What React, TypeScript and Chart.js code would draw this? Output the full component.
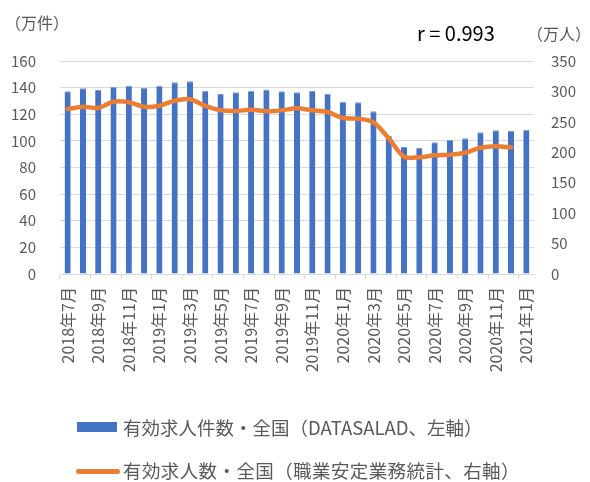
import React, { useEffect, useRef } from 'react';
import { Chart, registerables } from 'chart.js';

Chart.register(...registerables);

const months = [
  '2018年7月', '2018年8月', '2018年9月', '2018年10月', '2018年11月', '2018年12月',
  '2019年1月', '2019年2月', '2019年3月', '2019年4月', '2019年5月', '2019年6月',
  '2019年7月', '2019年8月', '2019年9月', '2019年10月', '2019年11月', '2019年12月',
  '2020年1月', '2020年2月', '2020年3月', '2020年4月', '2020年5月', '2020年6月',
  '2020年7月', '2020年8月', '2020年9月', '2020年10月', '2020年11月', '2020年12月',
  '2021年1月',
];

// 有効求人件数・全国（DATASALAD、左軸） 万件
const jobPostings = [
  137.3, 139.5, 138.2, 140.5, 141.5, 140.0, 141.5, 144.0, 144.7, 137.7,
  135.2, 136.5, 137.7, 138.5, 137.3, 136.5, 137.5, 135.4, 129.4, 129.0,
  122.2, 103.7, 95.4, 94.9, 98.9, 100.7, 101.9, 106.4, 107.9, 107.4,
  108.4,
];

// 有効求人数・全国（職業安定業務統計、右軸） 万人
const openings = [
  271.1, 274.9, 272.8, 283.1, 282.1, 274.9, 276.6, 284.8, 287.1, 276.1,
  269.0, 267.8, 270.0, 267.3, 269.0, 272.4, 269.0, 266.2, 256.3, 255.2,
  249.3, 223.0, 192.7, 191.8, 195.0, 196.0, 199.3, 207.5, 209.8, 208.2,
  null,
];

const leftMax = 160;
const leftStep = 20;
const rightMax = 350;
const rightStep = 50;

const seriesNames = [
  '有効求人件数・全国（DATASALAD、左軸）',
  '有効求人数・全国（職業安定業務統計、右軸）',
];
const leftUnit = '（万件）';
const rightUnit = '（万人）';
const corrText = 'r = 0.993';

const BLUE = '#4472C4';
const BLUE_EDGE = '#7A9BD6';
const ORANGE = '#ED7D31';
const GRID = '#D9D9D9';
const TEXT = '#595959';
const FONT = '"Noto Sans CJK JP", "Noto Sans", sans-serif';

export default function App() {
  const ref = useRef<HTMLCanvasElement | null>(null);

  useEffect(() => {
    if (!ref.current) return;
    const chart = new Chart(ref.current, {
      type: 'bar',
      data: {
        labels: months,
        datasets: [
          {
            type: 'line',
            label: seriesNames[1],
            data: openings,
            yAxisID: 'y1',
            borderColor: ORANGE,
            backgroundColor: ORANGE,
            borderWidth: 4.5,
            pointRadius: 0,
            tension: 0.3,
            borderCapStyle: 'round',
            borderJoinStyle: 'round',
            order: 0,
          } as any,
          {
            type: 'bar',
            label: seriesNames[0],
            data: jobPostings,
            yAxisID: 'y',
            backgroundColor: BLUE,
            borderColor: BLUE_EDGE,
            borderWidth: { top: 1, left: 0, right: 0, bottom: 0 },
            categoryPercentage: 1,
            barPercentage: 0.4,
            order: 1,
          },
        ],
      },
      options: {
        responsive: false,
        animation: false,
        devicePixelRatio: 1,
        layout: { padding: { top: 61, left: 0, right: 0, bottom: 0 } },
        plugins: {
          legend: { display: false },
          tooltip: { enabled: false },
        },
        scales: {
          x: {
            offset: true,
            border: { display: true, color: GRID, width: 1 },
            grid: {
              display: true,
              offset: true,
              drawOnChartArea: false,
              drawTicks: true,
              tickLength: 5,
              color: (ctx: any) => (ctx.index !== undefined && ctx.index % 2 === 0 ? GRID : 'rgba(0,0,0,0)'),
            },
            ticks: {
              autoSkip: false,
              maxRotation: 90,
              minRotation: 90,
              padding: 8,
              color: TEXT,
              font: { family: FONT, size: 16 },
              callback: (_v: any, i: number) => (i % 2 === 0 ? months[i] : ''),
            },
            afterFit: (s: any) => {
              s.height = 482 - 274;
            },
          },
          y: {
            position: 'left',
            min: 0,
            max: leftMax,
            border: { display: false },
            grid: { color: GRID, lineWidth: 1, drawTicks: false },
            ticks: {
              stepSize: leftStep,
              padding: 24,
              color: TEXT,
              font: { family: FONT, size: 15 },
            },
            afterFit: (s: any) => {
              s.width = 60;
            },
          },
          y1: {
            position: 'right',
            min: 0,
            max: rightMax,
            border: { display: false },
            grid: { display: false, drawTicks: false },
            ticks: {
              stepSize: rightStep,
              padding: 17,
              color: TEXT,
              font: { family: FONT, size: 15 },
            },
            afterFit: (s: any) => {
              s.width = 56;
            },
          },
        },
      },
    });
    return () => chart.destroy();
  }, []);

  const textBase: React.CSSProperties = {
    position: 'absolute',
    fontFamily: FONT,
    color: TEXT,
    whiteSpace: 'nowrap',
    lineHeight: 1,
  };

  return (
    <div style={{ position: 'fixed', left: 0, top: 0, width: 590, height: 482, background: '#fff' }}>
      <canvas ref={ref} width={590} height={482} style={{ position: 'absolute', left: 0, top: 0, width: 590, height: 482 }} />
      <div style={{ ...textBase, left: 5, top: 14, fontSize: 16 }}>{leftUnit}</div>
      <div style={{ ...textBase, left: 527, top: 25, fontSize: 16 }}>{rightUnit}</div>
      <div style={{ ...textBase, left: 417, top: 23, fontSize: 20, color: '#000' }}>{corrText}</div>
      <div style={{ position: 'absolute', left: 77, top: 422, width: 40, height: 10, background: BLUE }} />
      <div style={{ ...textBase, left: 123, top: 418, fontSize: 18.5 }}>{seriesNames[0]}</div>
      <div style={{ position: 'absolute', left: 76, top: 469, width: 44, height: 4.5, borderRadius: 3, background: ORANGE }} />
      <div style={{ ...textBase, left: 123, top: 461, fontSize: 18.5, letterSpacing: 0.4 }}>{seriesNames[1]}</div>
    </div>
  );
}
